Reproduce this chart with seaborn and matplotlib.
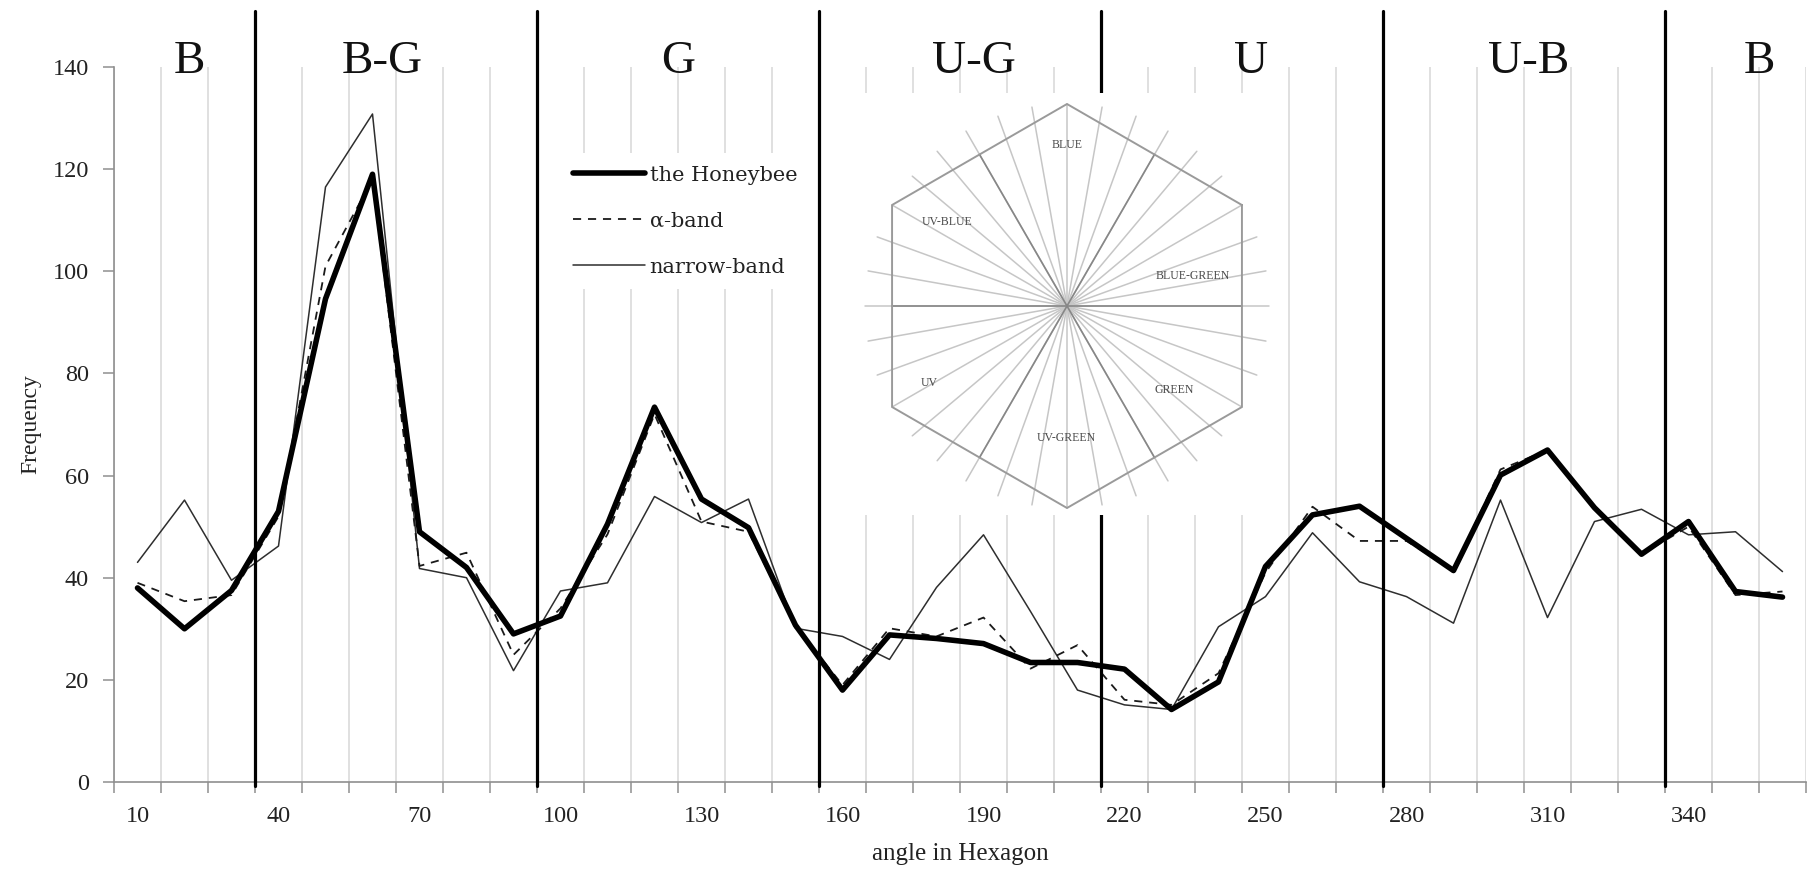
import numpy as np
import matplotlib
matplotlib.use("Agg")
import matplotlib.pyplot as plt
import seaborn as sns
from matplotlib.lines import Line2D

# Hue angle categories (degrees) and the three frequency series
angles = list(range(10, 361, 10))
honeybee = [38, 30, 37.5, 53, 94.6, 119, 49, 42, 29, 32.5, 50.5, 73.4,
            55.4, 49.8, 30.7, 18, 28.8, 28.1, 27.1, 23.4, 23.4, 22.1, 14.2, 19.6,
            42.2, 52.3, 54, 47.7, 41.4, 60.1, 65, 53.7, 44.6, 51, 37.3, 36.2]
alpha_band = [39, 35.4, 36.6, 52, 101, 118, 42.3, 44.9, 24.9, 34, 48.5, 72,
              51, 49, 30.5, 19, 30.1, 28.5, 32.2, 22.2, 26.8, 16.1, 15.1, 21.3,
              41, 53.9, 47.2, 47.2, 41.4, 61.2, 65, 53.7, 44.6, 50, 36.6, 37.3]
narrow_band = [43, 55.2, 39.5, 46.2, 116.5, 130.8, 41.8, 40, 21.8, 37.4, 39, 55.9,
               50.8, 55.4, 30.1, 28.5, 24, 38.1, 48.4, 33.4, 18, 15.1, 14.2, 30.4,
               36.3, 48.8, 39.2, 36.3, 31.1, 55.2, 32.2, 51, 53.4, 48.4, 49, 41.2]

series_names = ["the Honeybee", "\u03b1-band", "narrow-band"]
tick_angles = list(range(10, 341, 30))

# Colour-region boundaries and region names across the top
band_edges = [35, 95, 155, 215, 275, 335]
band_names = ["B", "B-G", "G", "U-G", "U", "U-B", "B"]
band_name_x = [21, 62, 125, 188, 247, 306, 355]

# Sector names inside the hexagon diagram
hex_names = ["BLUE", "UV-BLUE", "BLUE-GREEN", "GREEN", "UV-GREEN", "UV"]
hex_name_xy = [(0, 161), (-120, 84), (126, 30), (107, -84), (-1, -132), (-138, -77)]

sns.set_style("white")
plt.rcParams["font.family"] = ["Liberation Serif", "DejaVu Serif"]

W, H = 1809, 869
fig = plt.figure(figsize=(W / 100, H / 100), dpi=100)
ax = fig.add_axes([114 / W, 1 - 782 / H, (1806 - 114) / W, (782 - 67) / H])

axis_grey = "#8f8f8f"
grid_grey = "#dadada"

ax.set_xlim(5, 365)
ax.set_ylim(0, 140)
ax.set_axisbelow(True)

# category boundaries carry the tick marks and the vertical gridlines
ax.set_xticks(np.arange(5, 366, 10))
ax.set_xticklabels([])
ax.set_xticks(tick_angles, minor=True)
ax.set_xticklabels([str(a) for a in tick_angles], minor=True)
ax.tick_params(axis="x", which="major", direction="out", length=8, width=1.1,
               color=axis_grey, bottom=True)
ax.tick_params(axis="x", which="minor", length=0, pad=17, labelsize=17.5,
               labelcolor="#222222", bottom=True)
ax.set_yticks(np.arange(0, 141, 20))
ax.tick_params(axis="y", direction="out", length=8, width=1.1, color=axis_grey,
               pad=10, labelsize=17.5, labelcolor="#222222", left=True)
ax.grid(axis="x", which="major", color=grid_grey, lw=1.2)
ax.grid(axis="y", visible=False)
for side in ["top", "right"]:
    ax.spines[side].set_visible(False)
for side in ["left", "bottom"]:
    ax.spines[side].set_color(axis_grey)
    ax.spines[side].set_linewidth(1.2)

# the three series
dash = (0, (4.5, 3.8))
sns.lineplot(x=angles, y=narrow_band, ax=ax, color="#2e2e2e", lw=1.1, zorder=3)
sns.lineplot(x=angles, y=alpha_band, ax=ax, color="#1a1a1a", lw=1.3,
             linestyle=dash, zorder=3.2)
sns.lineplot(x=angles, y=honeybee, ax=ax, color="black", lw=4.0, zorder=3.5)

# region boundaries run past the plotting area up to the region names
for b in band_edges:
    ax.axvline(b, ymin=-0.006, ymax=1.078, color="black", lw=2.3,
               clip_on=False, zorder=6)
for name, xv in zip(band_names, band_name_x):
    ax.text(xv, 138.8, name, ha="center", va="baseline", fontsize=34,
            color="#111111", zorder=7, clip_on=False)

ax.set_xlabel("angle in Hexagon", fontsize=18, labelpad=12, color="#222222")
ax.set_ylabel("Frequency", fontsize=17, labelpad=8, color="#222222")

handles = [Line2D([], [], color="black", lw=4.0),
           Line2D([], [], color="#1a1a1a", lw=1.3, linestyle=dash),
           Line2D([], [], color="#2e2e2e", lw=1.1)]
leg = ax.legend(handles, series_names, loc="upper left",
                bbox_to_anchor=(560 / W, 1 - 153 / H), bbox_transform=fig.transFigure,
                frameon=True, facecolor="white", edgecolor="none", framealpha=1,
                fancybox=False, borderpad=0.6, borderaxespad=0,
                handlelength=3.5, handletextpad=0.2, labelspacing=1.3,
                prop={"family": "DejaVu Serif", "size": 15})
for t in leg.get_texts():
    t.set_color("#222222")

# hexagon diagram
axh = fig.add_axes([850 / W, 1 - 515 / H, 432 / W, 422 / H])
axh.set_xlim(-217, 215)
axh.set_ylim(-209, 213)
axh.set_xticks([])
axh.set_yticks([])
for s in axh.spines.values():
    s.set_visible(False)
axh.set_facecolor("white")

R = 202
for a in np.deg2rad(np.arange(0, 360, 10)):
    axh.plot([0, R * np.cos(a)], [0, R * np.sin(a)], color="#c6c6c6", lw=1.1)
apo = R * np.cos(np.pi / 6)
for a in np.deg2rad(np.arange(0, 360, 60)):
    axh.plot([0, apo * np.cos(a)], [0, apo * np.sin(a)], color="#878787", lw=1.2)
va = np.deg2rad(np.arange(30, 391, 60))
axh.plot(R * np.cos(va), R * np.sin(va), color="#9a9a9a", lw=1.4)
for name, (hx, hy) in zip(hex_names, hex_name_xy):
    axh.text(hx, hy, name, ha="center", va="center", fontsize=8.5, color="#4a4a4a")

fig.savefig("out.png", dpi=100)
